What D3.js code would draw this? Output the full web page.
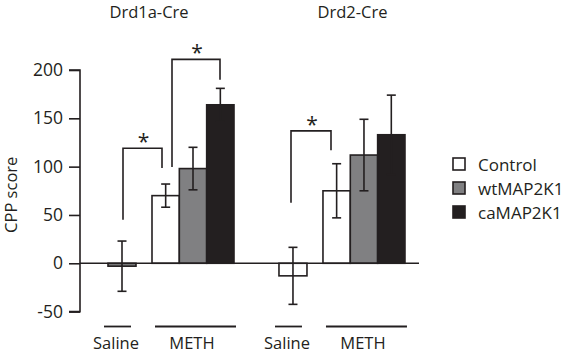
<!DOCTYPE html>
<html><head><meta charset="utf-8">
<script src="https://cdn.jsdelivr.net/npm/d3@7"></script>
<style>body{margin:0;background:#fff}svg{display:block}text{font-family:"Open Sans",sans-serif;fill:#231f20}</style>
</head><body><svg id="c" width="566" height="354"></svg>
<script>
const panels = ["Drd1a-Cre", "Drd2-Cre"];
const conditions = ["Saline", "METH"];
const series = ["Control", "wtMAP2K1", "caMAP2K1"];
const salineMean = [-3, -13];
const salineErr = [26, 29.5];
const methMean = [[70, 98, 164], [75, 112, 133]];
const methErr = [[12, 22, 17], [28, 37, 41]];
const yTicks = [-50, 0, 50, 100, 150, 200];
const colors = ["#ffffff", "#808082", "#231f20"];
const ink = "#231f20";

const svg = d3.select("#c");
const y = d3.scaleLinear().domain([-50, 200]).range([311.6, 70]);
const x0 = d3.scaleBand().domain(panels).range([108, 406]).paddingInner(0.257);
const xs = d3.scaleBand().domain(series).range([44, 126]);
const salW = 28;

const ax = svg.append("g").attr("transform", "translate(80,0)")
  .call(d3.axisLeft(y).tickValues(yTicks).tickSize(11).tickPadding(6).tickFormat(d => String(d)));
ax.selectAll("path,line").attr("stroke", ink).attr("stroke-width", 1.6);
ax.select(".domain").attr("d", `M-11,${y(200)}H0V${y(-50)}H-11`);
ax.selectAll("text").style("font-size", "17.5px").attr("fill", ink).attr("font-family", "Open Sans");

svg.append("text").attr("transform", `translate(17,${(y(-50) + y(200)) / 2 + 4}) rotate(-90)`)
  .attr("text-anchor", "middle").style("font-size", "16.5px").text("CPP score");

const err = (g, cx, top, bot, w) => {
  g.append("line").attr("x1", cx).attr("x2", cx).attr("y1", y(top)).attr("y2", y(bot));
  g.append("line").attr("x1", cx - w / 2).attr("x2", cx + w / 2).attr("y1", y(top)).attr("y2", y(top));
  g.append("line").attr("x1", cx - w / 2).attr("x2", cx + w / 2).attr("y1", y(bot)).attr("y2", y(bot));
};

panels.forEach((p, pi) => {
  const px = x0(p);
  const g = svg.append("g");
  const sm = salineMean[pi];
  g.append("rect").attr("x", px).attr("width", salW)
    .attr("y", y(Math.max(0, sm))).attr("height", Math.abs(y(sm) - y(0)))
    .attr("fill", pi === 0 ? colors[1] : colors[0]).attr("stroke", ink).attr("stroke-width", 1.6);
  series.forEach((s, si) => {
    const m = methMean[pi][si];
    g.append("rect").attr("x", px + xs(s)).attr("width", xs.bandwidth())
      .attr("y", y(m)).attr("height", y(0) - y(m))
      .attr("fill", colors[si]).attr("stroke", ink).attr("stroke-width", 1.6);
  });
  const eg = g.append("g").attr("stroke", ink).attr("stroke-width", 1.6);
  err(eg, px + salW / 2, sm + salineErr[pi], sm - salineErr[pi], 9);
  series.forEach((s, si) => {
    const m = methMean[pi][si], e = methErr[pi][si];
    err(eg, px + xs(s) + xs.bandwidth() / 2, m + e, m - e, 9);
  });
  const lg = svg.append("g");
  lg.append("line").attr("x1", px - 4).attr("x2", px + salW - 5).attr("y1", 326.5).attr("y2", 326.5)
    .attr("stroke", ink).attr("stroke-width", 1.8);
  lg.append("line").attr("x1", px + xs.range()[0] + 3).attr("x2", px + xs.range()[1] + 2).attr("y1", 326.5).attr("y2", 326.5)
    .attr("stroke", ink).attr("stroke-width", 1.8);
  lg.append("text").attr("x", px + salW / 2 - 6).attr("y", 349).attr("text-anchor", "middle")
    .style("font-size", "16.5px").text(conditions[0]);
  lg.append("text").attr("x", px + (xs.range()[0] + xs.range()[1]) / 2 - 1).attr("y", 349).attr("text-anchor", "middle")
    .style("font-size", "16.5px").text(conditions[1]);
});

svg.append("line").attr("x1", 80).attr("x2", 419).attr("y1", y(0)).attr("y2", y(0))
  .attr("stroke", ink).attr("stroke-width", 1.6);

svg.append("text").attr("x", 149).attr("y", 18).attr("text-anchor", "middle").style("font-size", "16.5px").text(panels[0]);
svg.append("text").attr("x", 352.5).attr("y", 18).attr("text-anchor", "middle").style("font-size", "16.5px").text(panels[1]);

const brackets = [
  {x1: 123, y1: 45, x2: 162, y2: 98.6, top: 119},
  {x1: 172, y1: 99.7, x2: 220, y2: 190, top: 211},
  {x1: 291, y1: 62.7, x2: 331, y2: 117, top: 137}
];
const bg = svg.append("g");
brackets.forEach(b => {
  bg.append("path").attr("d", `M${b.x1},${y(b.y1)}V${y(b.top)}H${b.x2}V${y(b.y2)}`)
    .attr("fill", "none").attr("stroke", ink).attr("stroke-width", 1.6);
  bg.append("text").attr("x", (b.x1 + b.x2) / 2 + 1).attr("y", y(b.top) + 1).attr("text-anchor", "middle")
    .style("font-size", "21px").text("*");
});

const leg = svg.append("g").attr("transform", "translate(453,158)");
series.forEach((s, i) => {
  const r = leg.append("g").attr("transform", `translate(0,${i * 24})`);
  r.append("rect").attr("width", 12).attr("height", 12).attr("fill", colors[i]).attr("stroke", ink).attr("stroke-width", 1.6);
  r.append("text").attr("x", 25).attr("y", 12.5).style("font-size", "17px").text(s);
});
</script></body></html>
